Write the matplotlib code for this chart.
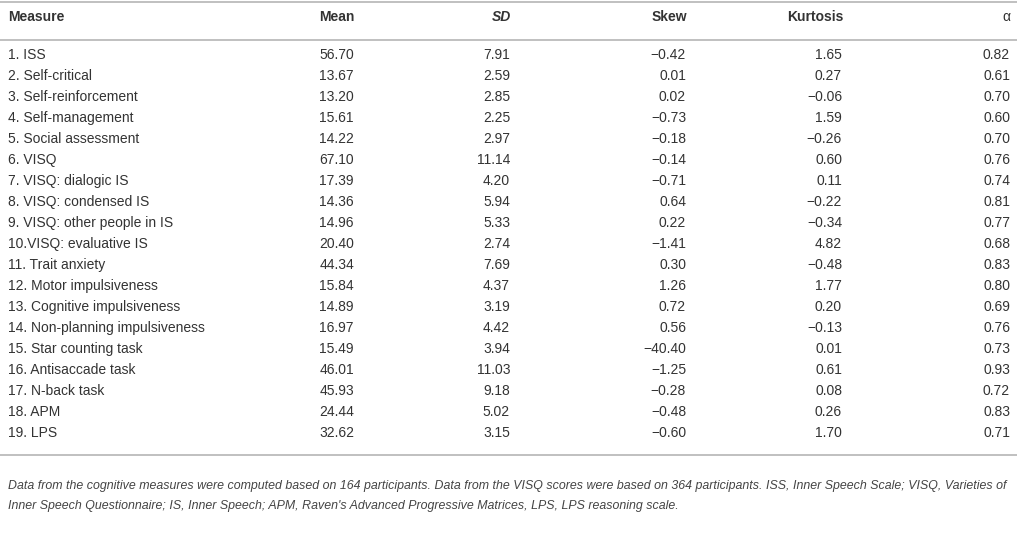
import matplotlib
matplotlib.use("Agg")
import matplotlib.pyplot as plt

measures = [
    "1. ISS", "2. Self-critical", "3. Self-reinforcement", "4. Self-management",
    "5. Social assessment", "6. VISQ", "7. VISQ: dialogic IS", "8. VISQ: condensed IS",
    "9. VISQ: other people in IS", "10.VISQ: evaluative IS", "11. Trait anxiety",
    "12. Motor impulsiveness", "13. Cognitive impulsiveness", "14. Non-planning impulsiveness",
    "15. Star counting task", "16. Antisaccade task", "17. N-back task", "18. APM", "19. LPS",
]
mean = [56.70, 13.67, 13.20, 15.61, 14.22, 67.10, 17.39, 14.36, 14.96, 20.40,
        44.34, 15.84, 14.89, 16.97, 15.49, 46.01, 45.93, 24.44, 32.62]
sd = [7.91, 2.59, 2.85, 2.25, 2.97, 11.14, 4.20, 5.94, 5.33, 2.74,
      7.69, 4.37, 3.19, 4.42, 3.94, 11.03, 9.18, 5.02, 3.15]
skew = [-0.42, 0.01, 0.02, -0.73, -0.18, -0.14, -0.71, 0.64, 0.22, -1.41,
        0.30, 1.26, 0.72, 0.56, -40.40, -1.25, -0.28, -0.48, -0.60]
kurtosis = [1.65, 0.27, -0.06, 1.59, -0.26, 0.60, 0.11, -0.22, -0.34, 4.82,
            -0.48, 1.77, 0.20, -0.13, 0.01, 0.61, 0.08, 0.26, 1.70]
alpha = [0.82, 0.61, 0.70, 0.60, 0.70, 0.76, 0.74, 0.81, 0.77, 0.68,
         0.83, 0.80, 0.69, 0.76, 0.73, 0.93, 0.72, 0.83, 0.71]

footnote = [
    "Data from the cognitive measures were computed based on 164 participants. Data from the VISQ scores were based on 364 participants. ISS, Inner Speech Scale; VISQ, Varieties of",
    "Inner Speech Questionnaire; IS, Inner Speech; APM, Raven's Advanced Progressive Matrices, LPS, LPS reasoning scale.",
]


def fmt(v):
    s = f"{abs(v):.2f}"
    return "\u2212" + s if v < 0 else s


plt.rcParams["font.family"] = ["Liberation Sans", "DejaVu Sans"]
txt = "#333333"
rule = "#b5b5b5"

fig = plt.figure(figsize=(10.17, 5.42), dpi=100)
ax = fig.add_axes([0, 0, 1, 1])
ax.set_xlim(0, 1017)
ax.set_ylim(542, 0)
ax.axis("off")

# horizontal rules
for y in (2, 40, 455):
    ax.plot([0, 1017], [y, y], color=rule, linewidth=1.2)

# header
head_y = 17
ax.text(8, head_y, "Measure", ha="left", va="center", fontsize=10, fontweight="bold", color=txt)
ax.text(355, head_y, "Mean", ha="right", va="center", fontsize=10, fontweight="bold", color=txt)
ax.text(511, head_y, "SD", ha="right", va="center", fontsize=10, fontweight="bold",
        fontstyle="italic", color=txt)
ax.text(687, head_y, "Skew", ha="right", va="center", fontsize=10, fontweight="bold", color=txt)
ax.text(843, head_y, "Kurtosis", ha="right", va="center", fontsize=10, fontweight="bold", color=txt)
ax.text(1010, head_y, "\u03b1", ha="right", va="center", fontsize=10, color=txt)

cols = [(mean, 354), (sd, 510), (skew, 686), (kurtosis, 842), (alpha, 1010)]
for i, name in enumerate(measures):
    y = 55 + i * 21
    ax.text(8, y, name, ha="left", va="center", fontsize=10, color=txt)
    for vals, x in cols:
        ax.text(x, y, fmt(vals[i]), ha="right", va="center", fontsize=10, color=txt)

for j, line in enumerate(footnote):
    ax.text(8, 486 + j * 20, line, ha="left", va="center", fontsize=8.95,
            fontstyle="italic", color="#444444")

fig.savefig("out.png", dpi=100)
